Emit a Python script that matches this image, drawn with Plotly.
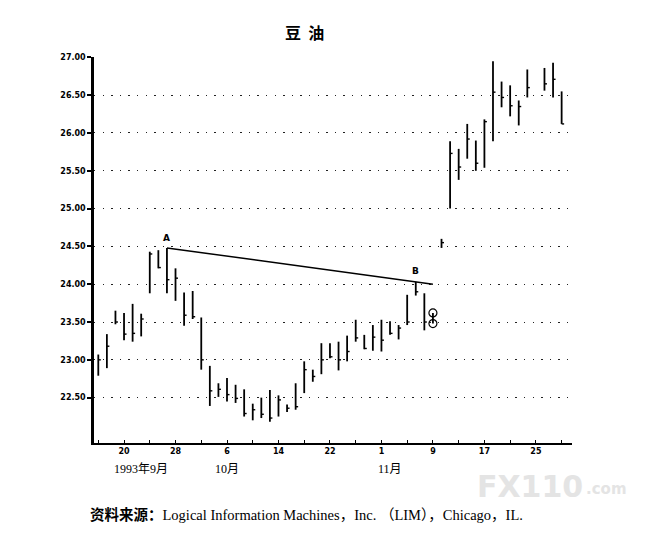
import pandas as pd
import plotly.graph_objects as go

# --- daily bars, soybean oil, Sep-Nov 1993 ---
dates = [
    "1993-09-15", "1993-09-16", "1993-09-17", "1993-09-20", "1993-09-21", "1993-09-22",
    "1993-09-23", "1993-09-24", "1993-09-27", "1993-09-28", "1993-09-29", "1993-09-30",
    "1993-10-01", "1993-10-04", "1993-10-05", "1993-10-06", "1993-10-07", "1993-10-08",
    "1993-10-11", "1993-10-12", "1993-10-13", "1993-10-14", "1993-10-15", "1993-10-18",
    "1993-10-19", "1993-10-20", "1993-10-21", "1993-10-22", "1993-10-25", "1993-10-26",
    "1993-10-27", "1993-10-28", "1993-10-29", "1993-11-01", "1993-11-02", "1993-11-03",
    "1993-11-04", "1993-11-05", "1993-11-08", "1993-11-09", "1993-11-10", "1993-11-11",
    "1993-11-12", "1993-11-15", "1993-11-16", "1993-11-17", "1993-11-18", "1993-11-19",
    "1993-11-22", "1993-11-23", "1993-11-24", "1993-11-26", "1993-11-29", "1993-11-30",
]
highs = [
    23.07, 23.34, 23.65, 23.62, 23.74, 23.61, 24.43, 24.45, 24.48, 24.21, 23.89, 23.91,
    23.56, 22.92, 22.69, 22.76, 22.67, 22.61, 22.42, 22.50, 22.60, 22.53, 22.41, 22.69,
    22.98, 22.87, 23.22, 23.22, 23.24, 23.32, 23.53, 23.33, 23.46, 23.53, 23.51, 23.46,
    23.86, 24.03, 23.88, 23.62, 24.60, 25.89, 25.79, 26.12, 25.90, 26.18, 26.95, 26.68,
    26.63, 26.43, 26.84, 26.86, 26.93, 26.55,
]
lows = [
    22.79, 22.89, 23.47, 23.26, 23.24, 23.31, 23.88, 24.21, 23.88, 23.78, 23.45, 23.54,
    22.87, 22.39, 22.51, 22.45, 22.43, 22.25, 22.20, 22.23, 22.18, 22.25, 22.31, 22.34,
    22.56, 22.71, 22.81, 23.02, 22.86, 22.98, 23.24, 23.14, 23.12, 23.11, 23.33, 23.27,
    23.46, 23.85, 23.39, 23.48, 24.48, 25.00, 25.38, 25.66, 25.50, 25.54, 25.89, 26.34,
    26.22, 26.10, 26.47, 26.56, 26.47, 26.12,
]
closes = [
    23.00, 23.18, 23.50, 23.34, 23.35, 23.54, 24.40, 24.22, 24.06, 24.08, 23.59, 23.57,
    23.00, 22.59, 22.61, 22.54, 22.49, 22.29, 22.34, 22.28, 22.23, 22.47, 22.36, 22.38,
    22.87, 22.78, 23.00, 23.04, 23.00, 23.11, 23.29, 23.15, 23.30, 23.26, 23.35, 23.42,
    23.50, 23.90, 23.50, None, 24.55, 25.73, 25.55, 25.92, 25.60, 26.15, 26.54, 26.47,
    26.36, 26.35, 26.60, 26.65, 26.71, 26.12,
]

# circled marks on 9 Nov and the A-B trend line
circle_dates = ["1993-11-09", "1993-11-09"]
circle_vals = [23.62, 23.48]
trend_dates = ["1993-09-27", "1993-11-09"]
trend_vals = [24.48, 24.00]

tick_dates = ["1993-09-15", "1993-09-20", "1993-09-23", "1993-09-28", "1993-10-01",
              "1993-10-06", "1993-10-11", "1993-10-14", "1993-10-19", "1993-10-22",
              "1993-10-27", "1993-11-01", "1993-11-04", "1993-11-09", "1993-11-12",
              "1993-11-17", "1993-11-22", "1993-11-25", "1993-11-30"]
tick_text = ["", "20", "", "28", "", "6", "", "14", "", "22", "", "1", "", "9", "",
             "17", "", "25", ""]
y_ticks = [22.5, 23.0, 23.5, 24.0, 24.5, 25.0, 25.5, 26.0, 26.5, 27.0]
month_dates = ["1993-09-22", "1993-10-06", "1993-11-02"]
month_text = ["1993年9月", "10月", "11月"]

# --- build segments for high-low bars and close ticks ---
bx, by = [], []
for d, h, l in zip(dates, highs, lows):
    t = pd.Timestamp(d)
    bx += [t, t, None]
    by += [l, h, None]

cx, cy = [], []
for d, c in zip(dates, closes):
    if c is None:
        continue
    t = pd.Timestamp(d)
    cx += [t, t + pd.Timedelta(hours=7), None]
    cy += [c, c, None]

fig = go.Figure()
fig.add_trace(go.Scatter(x=bx, y=by, mode="lines",
                         line=dict(color="black", width=1.8), hoverinfo="skip"))
fig.add_trace(go.Scatter(x=cx, y=cy, mode="lines",
                         line=dict(color="black", width=1.4), hoverinfo="skip"))
fig.add_trace(go.Scatter(x=trend_dates, y=trend_vals, mode="lines",
                         line=dict(color="black", width=1.5), hoverinfo="skip"))
fig.add_trace(go.Scatter(x=circle_dates, y=circle_vals, mode="markers",
                         marker=dict(symbol="circle-open", size=8, color="black",
                                     line=dict(width=1.2)),
                         hoverinfo="skip"))

label_font = dict(family="DejaVu Sans", size=8, color="black", weight="bold")

# page body has an 8px margin, so the figure is a bit smaller than the window
fig.update_layout(
    width=655, height=525,
    margin=dict(l=86, r=91, t=49, b=90),
    paper_bgcolor="white", plot_bgcolor="white",
    showlegend=False,
    title=dict(text="豆&nbsp;&nbsp;油", x=0.453, xanchor="center", y=0.952, yanchor="middle",
               font=dict(family="Noto Sans CJK SC", size=16, color="black", weight="bold")),
    xaxis=dict(
        type="date",
        range=["1993-09-14 12:00", "1993-12-01 05:00"],
        rangebreaks=[dict(bounds=["sat", "mon"])],
        tickmode="array", tickvals=tick_dates, ticktext=tick_text,
        ticks="inside", ticklen=3, tickwidth=1.2, tickcolor="black",
        showline=True, linecolor="black", linewidth=1.6,
        showgrid=False, zeroline=False, tickfont=label_font,
    ),
    yaxis=dict(
        range=[21.9, 27.005],
        tickmode="array", tickvals=y_ticks, ticktext=[f"{v:.2f}" for v in y_ticks],
        ticks="outside", ticklen=4, tickwidth=1.5, tickcolor="black",
        showline=True, linecolor="black", linewidth=2.5,
        showgrid=True, gridcolor="#222", gridwidth=1.3, griddash="1.3px,7.3px",
        zeroline=False, tickfont=label_font,
    ),
)

for d, txt in zip(month_dates, month_text):
    fig.add_annotation(x=d, y=-0.067, xref="x", yref="paper", text=txt, showarrow=False,
                       xanchor="center", yanchor="middle",
                       font=dict(family="Liberation Serif, Noto Sans CJK SC", size=12,
                                 color="black"))

fig.add_annotation(x="1993-09-27", y=24.52, text="A", showarrow=False, yanchor="bottom",
                   font=dict(family="DejaVu Sans", size=9, color="black", weight="bold"))
fig.add_annotation(x="1993-11-05", y=24.08, text="B", showarrow=False, yanchor="bottom",
                   font=dict(family="DejaVu Sans", size=9, color="black", weight="bold"))

# source line and watermark
fig.add_annotation(x=-0.013, y=-0.186, xref="paper", yref="paper", showarrow=False,
                   xanchor="left", yanchor="middle",
                   text="<b>资料来源：</b>Logical Information Machines，Inc. （LIM），Chicago，IL.",
                   font=dict(family="Liberation Serif, Noto Sans CJK SC", size=14.5,
                             color="black"))
fig.add_annotation(x=0.912, y=-0.113, xref="paper", yref="paper", showarrow=False,
                   xanchor="center", yanchor="middle", text="<b>FX110</b>",
                   font=dict(family="DejaVu Sans", size=30, color="#e4e4e4"))
fig.add_annotation(x=1.072, y=-0.12, xref="paper", yref="paper", showarrow=False,
                   xanchor="center", yanchor="middle", text="<b>.com</b>",
                   font=dict(family="DejaVu Sans", size=15, color="#e4e4e4"))

fig.write_html("out.html")
